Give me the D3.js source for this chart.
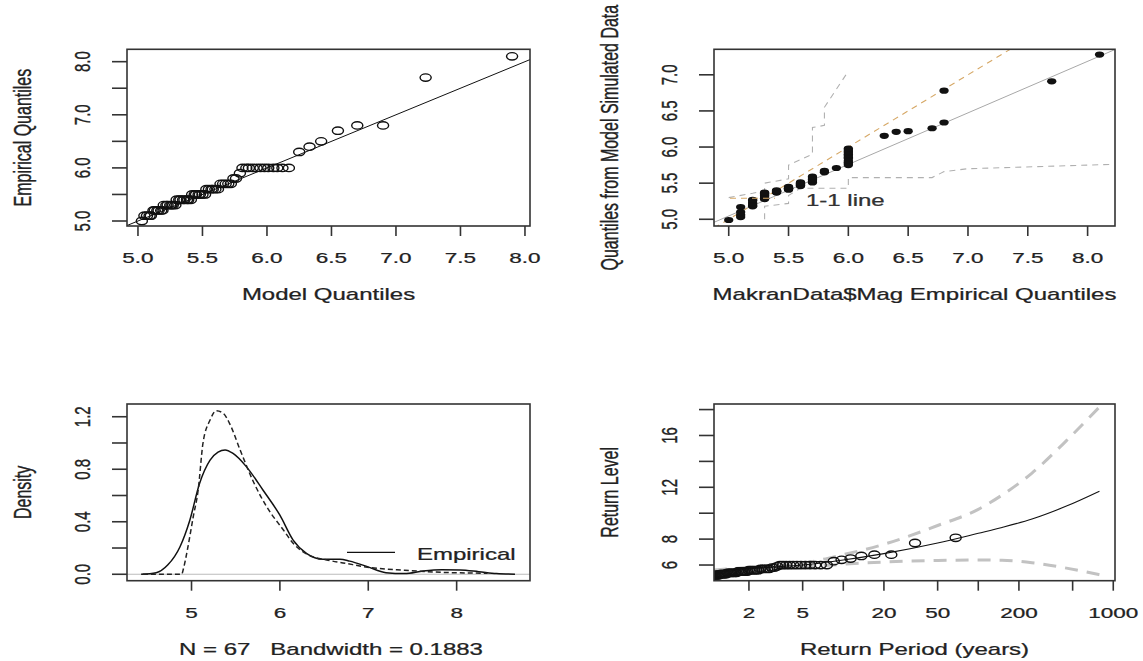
<!DOCTYPE html>
<html>
<head>
<meta charset="utf-8">
<script src="https://cdn.jsdelivr.net/npm/d3@7"></script>
<style>
body { margin: 0; background: #fff; }
svg { display: block; }
text { font-family: "Liberation Sans", Arial, sans-serif; fill: #222; stroke: #222; stroke-width: 0.25px; }
</style>
</head>
<body>
<svg id="chart" width="1143" height="661"></svg>
<script>
// sorted magnitudes (empirical quantiles), n = 67
const magnitudes = [5.0,
    5.1, 5.1, 5.1, 5.1,
    5.2, 5.2, 5.2, 5.2, 5.2, 5.2,
    5.3, 5.3, 5.3, 5.3, 5.3, 5.3, 5.3,
    5.4, 5.4, 5.4, 5.4, 5.4, 5.4, 5.4, 5.4,
    5.5, 5.5, 5.5, 5.5, 5.5, 5.5, 5.5,
    5.6, 5.6, 5.6, 5.6, 5.6, 5.6,
    5.7, 5.7, 5.7, 5.7, 5.7,
    5.8, 5.8, 5.9,
    6.0, 6.0, 6.0, 6.0, 6.0, 6.0, 6.0, 6.0, 6.0, 6.0, 6.0, 6.0,
    6.3, 6.4, 6.5, 6.7, 6.8, 6.8, 7.7, 8.1];

// model quantiles (top-left x)
const modelQuantiles = [5.03,
    5.05, 5.07, 5.09, 5.10,
    5.12, 5.13, 5.15, 5.16, 5.18, 5.19,
    5.20, 5.22, 5.23, 5.25, 5.26, 5.27, 5.29,
    5.30, 5.32, 5.33, 5.35, 5.36, 5.38, 5.39, 5.41,
    5.42, 5.44, 5.45, 5.47, 5.48, 5.50, 5.52,
    5.53, 5.55, 5.57, 5.58, 5.60, 5.62,
    5.64, 5.66, 5.68, 5.70, 5.72,
    5.74, 5.76, 5.79,
    5.81, 5.84, 5.86, 5.89, 5.92, 5.95, 5.98, 6.01, 6.05, 6.08, 6.12, 6.17,
    6.25, 6.33, 6.42, 6.55, 6.70, 6.90, 7.23, 7.90];

// quantiles from model simulated data (top-right y)
const simQuantiles = [4.99,
    5.03, 5.06, 5.10, 5.17,
    5.18, 5.19, 5.21, 5.23, 5.26, 5.27,
    5.28, 5.29, 5.31, 5.33, 5.34, 5.36, 5.37,
    5.37, 5.38, 5.38, 5.38, 5.39, 5.39, 5.39, 5.40,
    5.41, 5.42, 5.42, 5.43, 5.43, 5.44, 5.45,
    5.46, 5.47, 5.48, 5.49, 5.50, 5.51,
    5.51, 5.53, 5.55, 5.57, 5.59,
    5.65, 5.67, 5.71,
    5.75, 5.77, 5.79, 5.81, 5.84, 5.86, 5.88, 5.90, 5.92, 5.94, 5.96, 5.98,
    6.155, 6.21, 6.22, 6.26, 6.34, 6.78, 6.91, 7.28];

// confidence band and regression line (top-right)
const upperBandX = [5.0, 5.2, 5.3, 5.3, 5.5, 5.5, 5.7, 5.7, 5.8, 5.8, 6.0];
const upperBandY = [5.30, 5.36, 5.40, 5.50, 5.56, 5.75, 5.90, 6.27, 6.30, 6.55, 7.05];
const lowerBandX = [5.3, 5.3, 5.5, 5.5, 5.6, 6.0, 6.0, 6.7, 6.8, 7.0, 8.2];
const lowerBandY = [5.0, 5.18, 5.22, 5.33, 5.43, 5.43, 5.577, 5.577, 5.66, 5.70, 5.76];
const regressionX = [4.877, 8.229];
const regressionY = [4.958, 7.35];

// density (bottom-left)
const empDensX = [4.43, 4.6, 4.73, 4.87, 4.98, 5.09, 5.21, 5.30, 5.38, 5.47, 5.62, 5.81, 6.0, 6.15, 6.30,
    6.49, 6.68, 6.79, 6.99, 7.20, 7.41, 7.62, 7.83, 8.04, 8.25, 8.45, 8.66];
const empDensY = [0, 0.012, 0.07, 0.21, 0.41, 0.69, 0.87, 0.93, 0.947, 0.92, 0.82, 0.64, 0.45, 0.26, 0.16,
    0.115, 0.115, 0.10, 0.058, 0.012, 0.005, 0.025, 0.035, 0.033, 0.02, 0.006, 0];
const modDensX = [4.45, 4.89, 4.905, 4.96, 5.02, 5.075, 5.13, 5.21, 5.28, 5.36, 5.43, 5.55, 5.70, 5.85,
    6.04, 6.15, 6.30, 6.53, 6.74, 6.99, 7.41, 7.83, 8.35];
const modDensY = [0, 0, 0.033, 0.21, 0.44, 0.64, 1.0, 1.175, 1.246, 1.226, 1.15, 0.947, 0.705, 0.515,
    0.337, 0.236, 0.155, 0.109, 0.084, 0.054, 0.03, 0.015, 0.008];

// return level plot (bottom-right)
const returnPeriods = [1.015, 1.030, 1.046, 1.0625, 1.079, 1.097, 1.115, 1.133, 1.153, 1.172, 1.193,
    1.214, 1.236, 1.259, 1.283, 1.308, 1.333, 1.36, 1.388, 1.417, 1.447, 1.478, 1.511, 1.545, 1.581,
    1.619, 1.659, 1.70, 1.744, 1.789, 1.838, 1.889, 1.943, 2.0, 2.061, 2.125, 2.194, 2.267, 2.345,
    2.429, 2.519, 2.615, 2.72, 2.833, 2.957, 3.091, 3.238, 3.4, 3.579, 3.778, 4.0, 4.25, 4.533, 4.857,
    5.231, 5.667, 6.182, 6.8, 7.556, 8.5, 9.714, 11.33, 13.6, 17.0, 22.67, 34.0, 68.0];
const rlPeriods = [1.1, 1.5, 2, 3, 5, 10, 20, 50, 100, 150, 250, 450, 790];
const rlLevels = [5.55, 5.64, 5.72, 5.84, 6.0, 6.39, 6.88, 7.7, 8.45, 8.9, 9.55, 10.55, 11.7];
const rlUpper = [5.62, 5.72, 5.82, 5.97, 6.15, 6.8, 7.6, 9.05, 10.3, 11.4, 13.1, 15.6, 18.2];
const rlLower = [5.48, 5.56, 5.62, 5.74, 5.85, 6.06, 6.23, 6.35, 6.39, 6.37, 6.18, 5.76, 5.25];

// ticks and labels
const p1XTicks = [5.0, 5.5, 6.0, 6.5, 7.0, 7.5, 8.0];
const p1XLabels = ["5.0", "5.5", "6.0", "6.5", "7.0", "7.5", "8.0"];
const p1YTicks = [5.0, 5.5, 6.0, 6.5, 7.0, 7.5, 8.0];
const p1YLabels = ["5.0", "", "6.0", "", "7.0", "", "8.0"];
const p2XTicks = [5.0, 5.5, 6.0, 6.5, 7.0, 7.5, 8.0];
const p2XLabels = ["5.0", "5.5", "6.0", "6.5", "7.0", "7.5", "8.0"];
const p2YTicks = [5.0, 5.5, 6.0, 6.5, 7.0];
const p2YLabels = ["5.0", "5.5", "6.0", "6.5", "7.0"];
const p3XTicks = [5, 6, 7, 8];
const p3XLabels = ["5", "6", "7", "8"];
const p3YTicks = [0, 0.2, 0.4, 0.6, 0.8, 1.0, 1.2];
const p3YLabels = ["0.0", "", "0.4", "", "0.8", "", "1.2"];
const p4XTicks = [2, 5, 10, 20, 50, 100, 200, 500, 1000];
const p4XLabels = ["2", "5", "", "20", "50", "", "200", "", "1000"];
const p4YTicks = [6, 8, 10, 12, 14, 16, 18];
const p4YLabels = ["6", "8", "", "12", "", "16", ""];

const SX = 1.5; // the picture is stretched horizontally
const LEFT = [127, 530], RIGHT = [714, 1115];
const TOP = [49.3, 226], BOTTOM = [404, 580.7];

let svg = d3.select("#chart");

function hText(g, x, y, str, size, anchor) {
    return g.append("text")
        .attr("transform", `translate(${x},${y}) scale(${SX},1)`)
        .attr("text-anchor", anchor || "middle")
        .style("font-size", size + "px")
        .style("white-space", "pre")
        .text(str);
}

function vText(g, x, y, str, size) {
    return g.append("text")
        .attr("transform", `translate(${x},${y}) scale(${SX},1) rotate(-90)`)
        .attr("text-anchor", "middle")
        .style("font-size", size + "px")
        .text(str);
}

function makePanel(id, xr, yr) {
    let g = svg.append("g");
    svg.append("clipPath").attr("id", id)
        .append("rect")
        .attr("x", xr[0]).attr("y", yr[0])
        .attr("width", xr[1] - xr[0]).attr("height", yr[1] - yr[0]);
    let plot = g.append("g").attr("clip-path", `url(#${id})`);
    return { g, plot };
}

function drawFrame(g, xr, yr) {
    g.append("rect")
        .attr("x", xr[0]).attr("y", yr[0])
        .attr("width", xr[1] - xr[0]).attr("height", yr[1] - yr[0])
        .attr("fill", "none").attr("stroke", "#333").attr("stroke-width", 1.6);
}

function xAxis(g, x, ticks, labels, yr) {
    let y0 = yr[1];
    ticks.forEach((t, i) => {
        g.append("line")
            .attr("x1", x(t)).attr("x2", x(t))
            .attr("y1", y0).attr("y2", y0 + 10)
            .attr("stroke", "#333").attr("stroke-width", 1.6);
        if (labels[i]) hText(g, x(t), y0 + 37, labels[i], 15);
    });
}

function yAxis(g, y, ticks, labels, xr) {
    let x0 = xr[0];
    ticks.forEach((t, i) => {
        g.append("line")
            .attr("x1", x0 - 15).attr("x2", x0)
            .attr("y1", y(t)).attr("y2", y(t))
            .attr("stroke", "#333").attr("stroke-width", 1.6);
        if (labels[i]) vText(g, x0 - 37, y(t), labels[i], 15);
    });
}

function openPoints(g, xs, ys, x, y, r) {
    xs.forEach((v, i) => {
        g.append("ellipse")
            .attr("cx", x(v)).attr("cy", y(ys[i]))
            .attr("rx", r * SX).attr("ry", r)
            .attr("fill", "none").attr("stroke", "#111").attr("stroke-width", 1.4);
    });
}

function pathOf(xs, ys, x, y, curve) {
    return d3.line().x(d => x(d[0])).y(d => y(d[1])).curve(curve || d3.curveLinear)(xs.map((v, i) => [v, ys[i]]));
}

// ---------- panel 1: model vs empirical quantiles ----------
{
    let { g, plot } = makePanel("clip1", LEFT, TOP);
    let x = d3.scaleLinear().domain([4.915, 8.039]).range(LEFT);
    let y = d3.scaleLinear().domain([4.906, 8.233]).range([TOP[1], TOP[0]]);

    plot.append("line")
        .attr("x1", x(4.915)).attr("y1", y(4.915))
        .attr("x2", x(8.3)).attr("y2", y(8.3))
        .attr("stroke", "#111").attr("stroke-width", 1);
    openPoints(plot, modelQuantiles, magnitudes, x, y, 3.7);

    drawFrame(g, LEFT, TOP);
    xAxis(g, x, p1XTicks, p1XLabels, TOP);
    yAxis(g, y, p1YTicks, p1YLabels, LEFT);
    hText(g, (LEFT[0] + LEFT[1]) / 2, TOP[1] + 74, "Model Quantiles", 16);
    vText(g, LEFT[0] - 96, (TOP[0] + TOP[1]) / 2, "Empirical Quantiles", 16);
}

// ---------- panel 2: empirical vs simulated quantiles ----------
{
    let { g, plot } = makePanel("clip2", RIGHT, TOP);
    let x = d3.scaleLinear().domain([4.877, 8.229]).range(RIGHT);
    let y = d3.scaleLinear().domain([4.907, 7.353]).range([TOP[1], TOP[0]]);

    plot.append("path").attr("d", pathOf(upperBandX, upperBandY, x, y))
        .attr("fill", "none").attr("stroke", "#b0b0b0").attr("stroke-width", 1.1).attr("stroke-dasharray", "6,5");
    plot.append("path").attr("d", pathOf(lowerBandX, lowerBandY, x, y))
        .attr("fill", "none").attr("stroke", "#b0b0b0").attr("stroke-width", 1.1).attr("stroke-dasharray", "6,5");
    plot.append("path").attr("d", pathOf(regressionX, regressionY, x, y))
        .attr("fill", "none").attr("stroke", "#a8a8a8").attr("stroke-width", 1);
    plot.append("line")
        .attr("x1", x(4.877)).attr("y1", y(4.877))
        .attr("x2", x(7.5)).attr("y2", y(7.5))
        .attr("stroke", "#d6a866").attr("stroke-width", 1.1).attr("stroke-dasharray", "6,5");

    magnitudes.forEach((v, i) => {
        plot.append("ellipse")
            .attr("cx", x(v)).attr("cy", y(simQuantiles[i]))
            .attr("rx", 3.1 * SX).attr("ry", 3.1)
            .attr("fill", "#111");
    });

    // legend
    g.append("line")
        .attr("x1", 730).attr("x2", 775).attr("y1", 198.3).attr("y2", 198.3)
        .attr("stroke", "#d6a866").attr("stroke-width", 1.1).attr("stroke-dasharray", "6,5");
    hText(g, 806, 206, "1-1 line", 16, "start").style("fill", "#333");

    drawFrame(g, RIGHT, TOP);
    xAxis(g, x, p2XTicks, p2XLabels, TOP);
    yAxis(g, y, p2YTicks, p2YLabels, RIGHT);
    hText(g, (RIGHT[0] + RIGHT[1]) / 2, TOP[1] + 74, "MakranData$Mag Empirical Quantiles", 16);
    vText(g, RIGHT[0] - 96, (TOP[0] + TOP[1]) / 2, "Quantiles from Model Simulated Data", 16);
}

// ---------- panel 3: density ----------
{
    let { g, plot } = makePanel("clip3", LEFT, BOTTOM);
    let x = d3.scaleLinear().domain([4.27, 8.83]).range(LEFT);
    let y = d3.scaleLinear().domain([-0.049, 1.297]).range([BOTTOM[1], BOTTOM[0]]);

    plot.append("line")
        .attr("x1", LEFT[0]).attr("x2", LEFT[1]).attr("y1", y(0)).attr("y2", y(0))
        .attr("stroke", "#bbb").attr("stroke-width", 1.2);
    plot.append("path").attr("d", pathOf(empDensX, empDensY, x, y, d3.curveMonotoneX))
        .attr("fill", "none").attr("stroke", "#111").attr("stroke-width", 1.5);
    plot.append("path").attr("d", pathOf(modDensX, modDensY, x, y, d3.curveMonotoneX))
        .attr("fill", "none").attr("stroke", "#222").attr("stroke-width", 1.5).attr("stroke-dasharray", "5,3");

    g.append("line")
        .attr("x1", 347).attr("x2", 395).attr("y1", 552.3).attr("y2", 552.3)
        .attr("stroke", "#111").attr("stroke-width", 1.2);
    hText(g, 417, 560, "Empirical", 16, "start");

    drawFrame(g, LEFT, BOTTOM);
    xAxis(g, x, p3XTicks, p3XLabels, BOTTOM);
    yAxis(g, y, p3YTicks, p3YLabels, LEFT);
    hText(g, 331, BOTTOM[1] + 74, "N = 67   Bandwidth = 0.1883", 16);
    vText(g, LEFT[0] - 96, (BOTTOM[0] + BOTTOM[1]) / 2, "Density", 16);
}

// ---------- panel 4: return levels ----------
{
    let { g, plot } = makePanel("clip4", RIGHT, BOTTOM);
    let x = d3.scaleLog().domain([1.102, 1030]).range(RIGHT);
    let y = d3.scaleLinear().domain([4.79, 18.43]).range([BOTTOM[1], BOTTOM[0]]);

    plot.append("path").attr("d", pathOf(rlPeriods, rlUpper, x, y, d3.curveMonotoneX))
        .attr("fill", "none").attr("stroke", "#c2c2c2").attr("stroke-width", 3).attr("stroke-dasharray", "13,9");
    plot.append("path").attr("d", pathOf(rlPeriods, rlLower, x, y, d3.curveMonotoneX))
        .attr("fill", "none").attr("stroke", "#c2c2c2").attr("stroke-width", 3).attr("stroke-dasharray", "13,9");
    plot.append("path").attr("d", pathOf(rlPeriods, rlLevels, x, y, d3.curveMonotoneX))
        .attr("fill", "none").attr("stroke", "#111").attr("stroke-width", 1.1);
    openPoints(plot, returnPeriods, magnitudes, x, y, 3.7);

    drawFrame(g, RIGHT, BOTTOM);
    xAxis(g, x, p4XTicks, p4XLabels, BOTTOM);
    yAxis(g, y, p4YTicks, p4YLabels, RIGHT);
    hText(g, (RIGHT[0] + RIGHT[1]) / 2, BOTTOM[1] + 74, "Return Period (years)", 16);
    vText(g, RIGHT[0] - 96, (BOTTOM[0] + BOTTOM[1]) / 2, "Return Level", 16);
}
</script>
</body>
</html>
